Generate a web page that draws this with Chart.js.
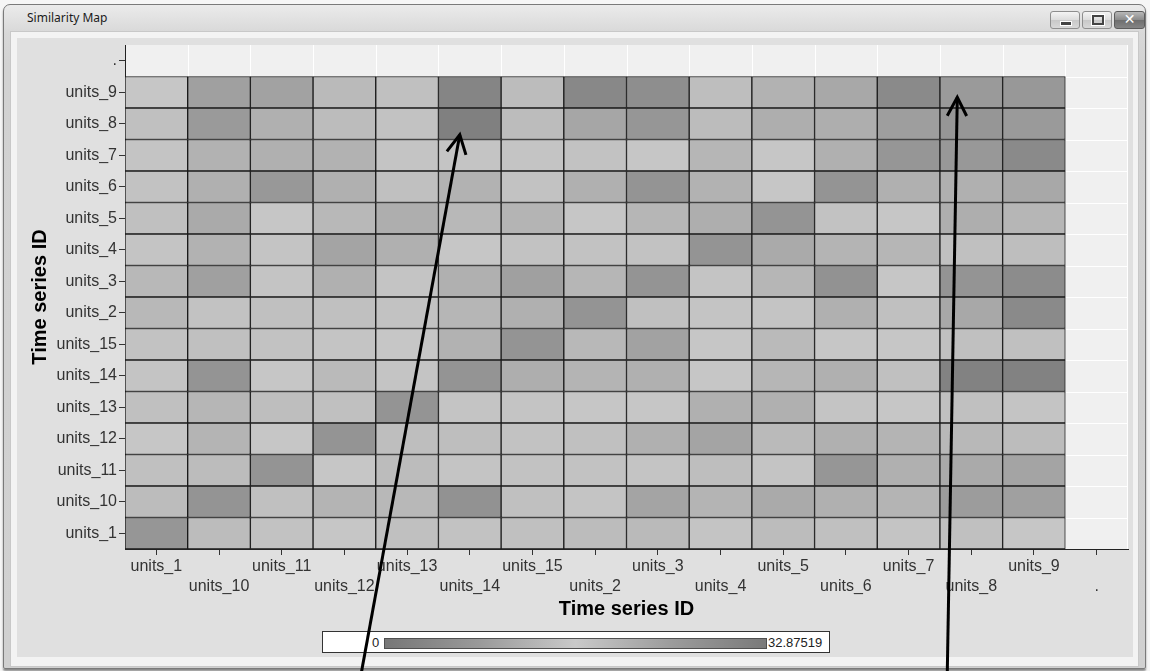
<!DOCTYPE html>
<html><head><meta charset="utf-8">
<script src="https://cdn.jsdelivr.net/npm/chart.js@4.4.1/dist/chart.umd.min.js"></script>
<style>
html,body{margin:0;padding:0;width:1150px;height:671px;overflow:hidden;background:#f6f6f6;font-family:"Liberation Sans",Arial,sans-serif;}
.abs{position:absolute;}
#win{left:3px;top:4px;width:1141px;height:663px;border:1px solid #7a7a7a;border-radius:7px 7px 2px 2px;background:linear-gradient(#ebebeb,#d8d8d8 28px,#d2d2d2 60px,#d0d0d0);box-shadow:0 2px 2px rgba(0,0,0,.45);}
#title{left:27px;top:9px;font:12px "Noto Sans","DejaVu Sans",sans-serif;color:#1b1b1b;}
#strip{left:10px;top:31px;width:1127px;height:634px;background:#f3f3f3;border:1px solid #c8c8c8;}
#content{left:17px;top:38px;width:1116px;height:619px;background:#e0e0e0;}
.btn{top:11px;height:16px;border:1px solid #8e8e8e;border-radius:3px;background:linear-gradient(#f4f4f4,#dcdcdc 50%,#c8c8c8 51%,#d8d8d8);}
#bmin{left:1050px;width:28px;}
#bmax{left:1082px;width:28px;}
#bcls{left:1114px;width:29px;background:linear-gradient(#b8b8b8,#8a8a8a 50%,#6e6e6e 51%,#858585);border-color:#5c5c5c;}
#cbox{left:322px;top:631px;width:506px;height:20px;background:#fff;border:1px solid #333;}
#cbar{left:384px;top:638px;width:381px;height:9px;border:1px solid #505050;background:linear-gradient(to right,#777,#9a9a9a 25%,#c9c9c9 50%,#9c9c9c 75%,#7a7a7a);}
.clab{top:635px;font:13px "Liberation Sans",Arial,sans-serif;color:#222;}
canvas{position:absolute;left:0;top:0;}
</style></head>
<body>
<div id="win" class="abs"></div>
<div id="title" class="abs">Similarity Map</div>
<div id="bmin" class="abs btn"><div class="abs" style="left:9px;top:9px;width:10px;height:3px;background:#444;border:1px solid #fff;"></div></div>
<div id="bmax" class="abs btn"><div class="abs" style="left:9px;top:3px;width:8px;height:6px;border:2px solid #444;outline:1px solid #fff;"></div></div>
<div id="bcls" class="abs btn"><div class="abs" style="left:0;top:-1px;width:29px;text-align:center;font:bold 14px 'DejaVu Sans',sans-serif;color:#fff;">✕</div></div>
<div id="strip" class="abs"></div>
<div id="content" class="abs"></div>
<div id="cbox" class="abs"></div>
<div id="cbar" class="abs"></div>
<div class="abs clab" style="left:372px;">0</div>
<div class="abs clab" style="left:768px;">32.87519</div>
<canvas id="c" width="1150" height="671"></canvas>
<script>
// categories (x left->right, y bottom->top)
const xCategories = ['units_1','units_10','units_11','units_12','units_13','units_14','units_15','units_2','units_3','units_4','units_5','units_6','units_7','units_8','units_9','.'];
const yCategories = ['units_1','units_10','units_11','units_12','units_13','units_14','units_15','units_2','units_3','units_4','units_5','units_6','units_7','units_8','units_9','.'];
const scaleMin = 0;
const scaleMax = 32.87519;

// distance values per row (columns follow xCategories order)
const units_1_row  = [23.5,7.0,4.3,2.6,5.2,4.3,5.2,7.0,7.8,3.5,7.0,5.2,3.5,5.2,2.6];
const units_10_row = [7.0,24.3,5.2,10.4,8.7,25.2,5.2,3.5,17.4,10.4,14.8,12.2,10.4,20.9,19.1];
const units_11_row = [5.2,7.0,24.3,2.6,7.0,3.5,4.3,4.3,3.5,6.1,3.5,23.5,12.2,14.8,17.4];
const units_12_row = [2.6,10.4,2.6,24.3,6.1,6.1,4.3,5.2,12.2,17.4,7.8,12.2,10.4,8.7,7.0];
const units_13_row = [5.2,9.6,6.1,5.2,24.3,3.5,3.5,2.6,2.6,12.2,12.2,3.5,2.6,5.2,3.5];
const units_14_row = [3.5,24.3,2.6,7.8,3.5,24.3,13.0,10.4,12.2,2.6,9.6,12.2,5.2,32.2,32.2];
const units_15_row = [4.3,5.2,4.3,3.5,2.6,11.3,24.3,8.7,18.3,2.6,7.8,2.6,2.6,5.2,5.2];
const units_2_row  = [8.7,4.3,5.2,5.2,4.3,9.6,12.2,24.3,5.2,3.5,3.5,12.2,5.2,15.7,28.7];
const units_3_row  = [8.7,19.1,3.5,12.2,3.5,12.2,19.1,9.6,24.3,3.5,9.6,25.2,2.6,24.3,27.8];
const units_4_row  = [3.5,11.3,3.5,17.4,12.2,2.6,4.3,4.3,4.3,24.3,14.8,10.4,9.6,5.2,6.1];
const units_5_row  = [5.2,14.8,2.6,8.7,13.0,8.7,10.4,2.6,9.6,13.0,24.3,4.3,2.6,13.0,9.6];
const units_6_row  = [4.3,12.2,22.6,12.2,5.2,11.3,4.3,12.2,24.3,11.3,2.6,24.3,12.2,12.2,15.7];
const units_7_row  = [3.5,11.3,12.2,11.3,3.5,3.5,3.5,4.3,2.6,9.6,2.6,12.2,23.5,22.6,28.7];
const units_8_row  = [5.2,21.7,12.2,7.0,4.3,32.8,7.0,16.5,23.5,7.0,13.0,13.0,20.0,23.5,21.7];
const units_9_row  = [2.6,19.1,18.3,7.8,5.2,30.9,7.0,29.6,27.0,6.1,11.3,15.7,28.7,21.7,22.6];

const rows = [units_1_row,units_10_row,units_11_row,units_12_row,units_13_row,units_14_row,units_15_row,
  units_2_row,units_3_row,units_4_row,units_5_row,units_6_row,units_7_row,units_8_row,units_9_row];

// annotated cells: [column, row]
const arrowCells = [['units_14','units_8'],['units_8','units_9']];

function grayFor(v){
  const t = Math.max(0, Math.min(1, (v - scaleMin) / (scaleMax - scaleMin)));
  const g = Math.round(204 - t * 76);
  return `rgb(${g},${g},${g})`;
}

const datasets = rows.map((r, ri) => ({
  label: yCategories[ri],
  data: xCategories.map((c, ci) => ci < r.length ? 1 : null),
  backgroundColor: ctx => grayFor(r[ctx.dataIndex]),
  borderColor: '#1a1a1a',
  borderWidth: 1,
  borderSkipped: false,
  barPercentage: 1,
  categoryPercentage: 1,
  stack: 's'
}));

const bgPlugin = {
  id: 'bg',
  beforeDraw(chart){
    const {ctx, chartArea: a, scales: {x, y}} = chart;
    ctx.save();
    ctx.fillStyle = '#f0f0f0';
    ctx.fillRect(a.left, a.top, a.right - a.left, a.bottom - a.top);
    ctx.strokeStyle = '#ffffff';
    ctx.lineWidth = 1;
    ctx.beginPath();
    for (let i = 1; i <= xCategories.length; i++) {
      const px = i < xCategories.length ? (x.getPixelForValue(i - 1) + x.getPixelForValue(i)) / 2 : a.right - 1;
      ctx.moveTo(Math.round(px) + 0.5, a.top); ctx.lineTo(Math.round(px) + 0.5, a.bottom);
    }
    for (let j = 1; j < yCategories.length; j++) {
      const py = y.getPixelForValue(j);
      ctx.moveTo(a.left, Math.round(py) + 0.5); ctx.lineTo(a.right, Math.round(py) + 0.5);
    }
    ctx.stroke();
    ctx.restore();
  }
};

const arrowPlugin = {
  id: 'arrows',
  afterDraw(chart){
    const {ctx, scales: {x, y}} = chart;
    const specs = [
      {offx: -10, offy: 11, slope: -0.183},
      {offx: -14, offy: 5, slope: -0.0174}
    ];
    ctx.save();
    ctx.strokeStyle = '#000';
    ctx.lineWidth = 3;
    ctx.lineJoin = 'miter';
    arrowCells.forEach((cell, k) => {
      const tx = x.getPixelForValue(xCategories.indexOf(cell[0])) + specs[k].offx;
      const ty = y.getPixelForValue(yCategories.indexOf(cell[1]) + 0.5) + specs[k].offy;
      const sy = chart.height + 2;
      const sx = tx + (sy - ty) * specs[k].slope;
      ctx.beginPath(); ctx.moveTo(sx, sy); ctx.lineTo(tx, ty); ctx.stroke();
      const ang = Math.atan2(ty - sy, tx - sx), L = 21, w = 0.48;
      ctx.beginPath();
      ctx.moveTo(tx - L * Math.cos(ang - w), ty - L * Math.sin(ang - w));
      ctx.lineTo(tx, ty);
      ctx.lineTo(tx - L * Math.cos(ang + w), ty - L * Math.sin(ang + w));
      ctx.stroke();
    });
    ctx.restore();
  }
};

const tickFont = {family: '"Liberation Sans", Arial, sans-serif', size: 16, lineHeight: 1.25};
const titleFont = {family: '"Liberation Sans", Arial, sans-serif', size: 20, weight: 'bold', lineHeight: 1.2};

new Chart(document.getElementById('c'), {
  type: 'bar',
  data: {labels: xCategories, datasets},
  options: {
    responsive: false,
    animation: false,
    events: [],
    layout: {padding: {left: 20, top: 45, right: 22, bottom: 42}},
    plugins: {legend: {display: false}, tooltip: {enabled: false}},
    scales: {
      x: {
        type: 'category',
        stacked: true,
        offset: true,
        grid: {offset: false, drawOnChartArea: false, drawTicks: true, tickLength: 6, color: '#333'},
        border: {display: true, color: '#222', width: 1},
        ticks: {
          autoSkip: false, maxRotation: 0, minRotation: 0, padding: 2,
          color: '#333', font: tickFont,
          callback: (v, i) => i % 2 ? ['', xCategories[i]] : xCategories[i]
        },
        title: {display: true, text: 'Time series ID', color: '#000', font: titleFont, padding: {top: 0, bottom: 8}},
        afterFit: s => { s.height = 80; }
      },
      y: {
        type: 'linear',
        stacked: true,
        min: 0,
        max: yCategories.length,
        grid: {drawOnChartArea: false, drawTicks: true, tickLength: 6, color: '#333'},
        border: {display: true, color: '#222', width: 1},
        afterBuildTicks: s => { s.ticks = yCategories.map((c, i) => ({value: i + 0.5})); },
        ticks: {
          autoSkip: false, padding: 2, color: '#333', font: tickFont,
          callback: (v, i) => yCategories[i]
        },
        title: {display: true, text: 'Time series ID', color: '#000', font: titleFont, padding: {top: 8, bottom: 0}},
        afterFit: s => { s.width = 105; }
      }
    }
  },
  plugins: [bgPlugin, arrowPlugin]
});
</script>
</body></html>
